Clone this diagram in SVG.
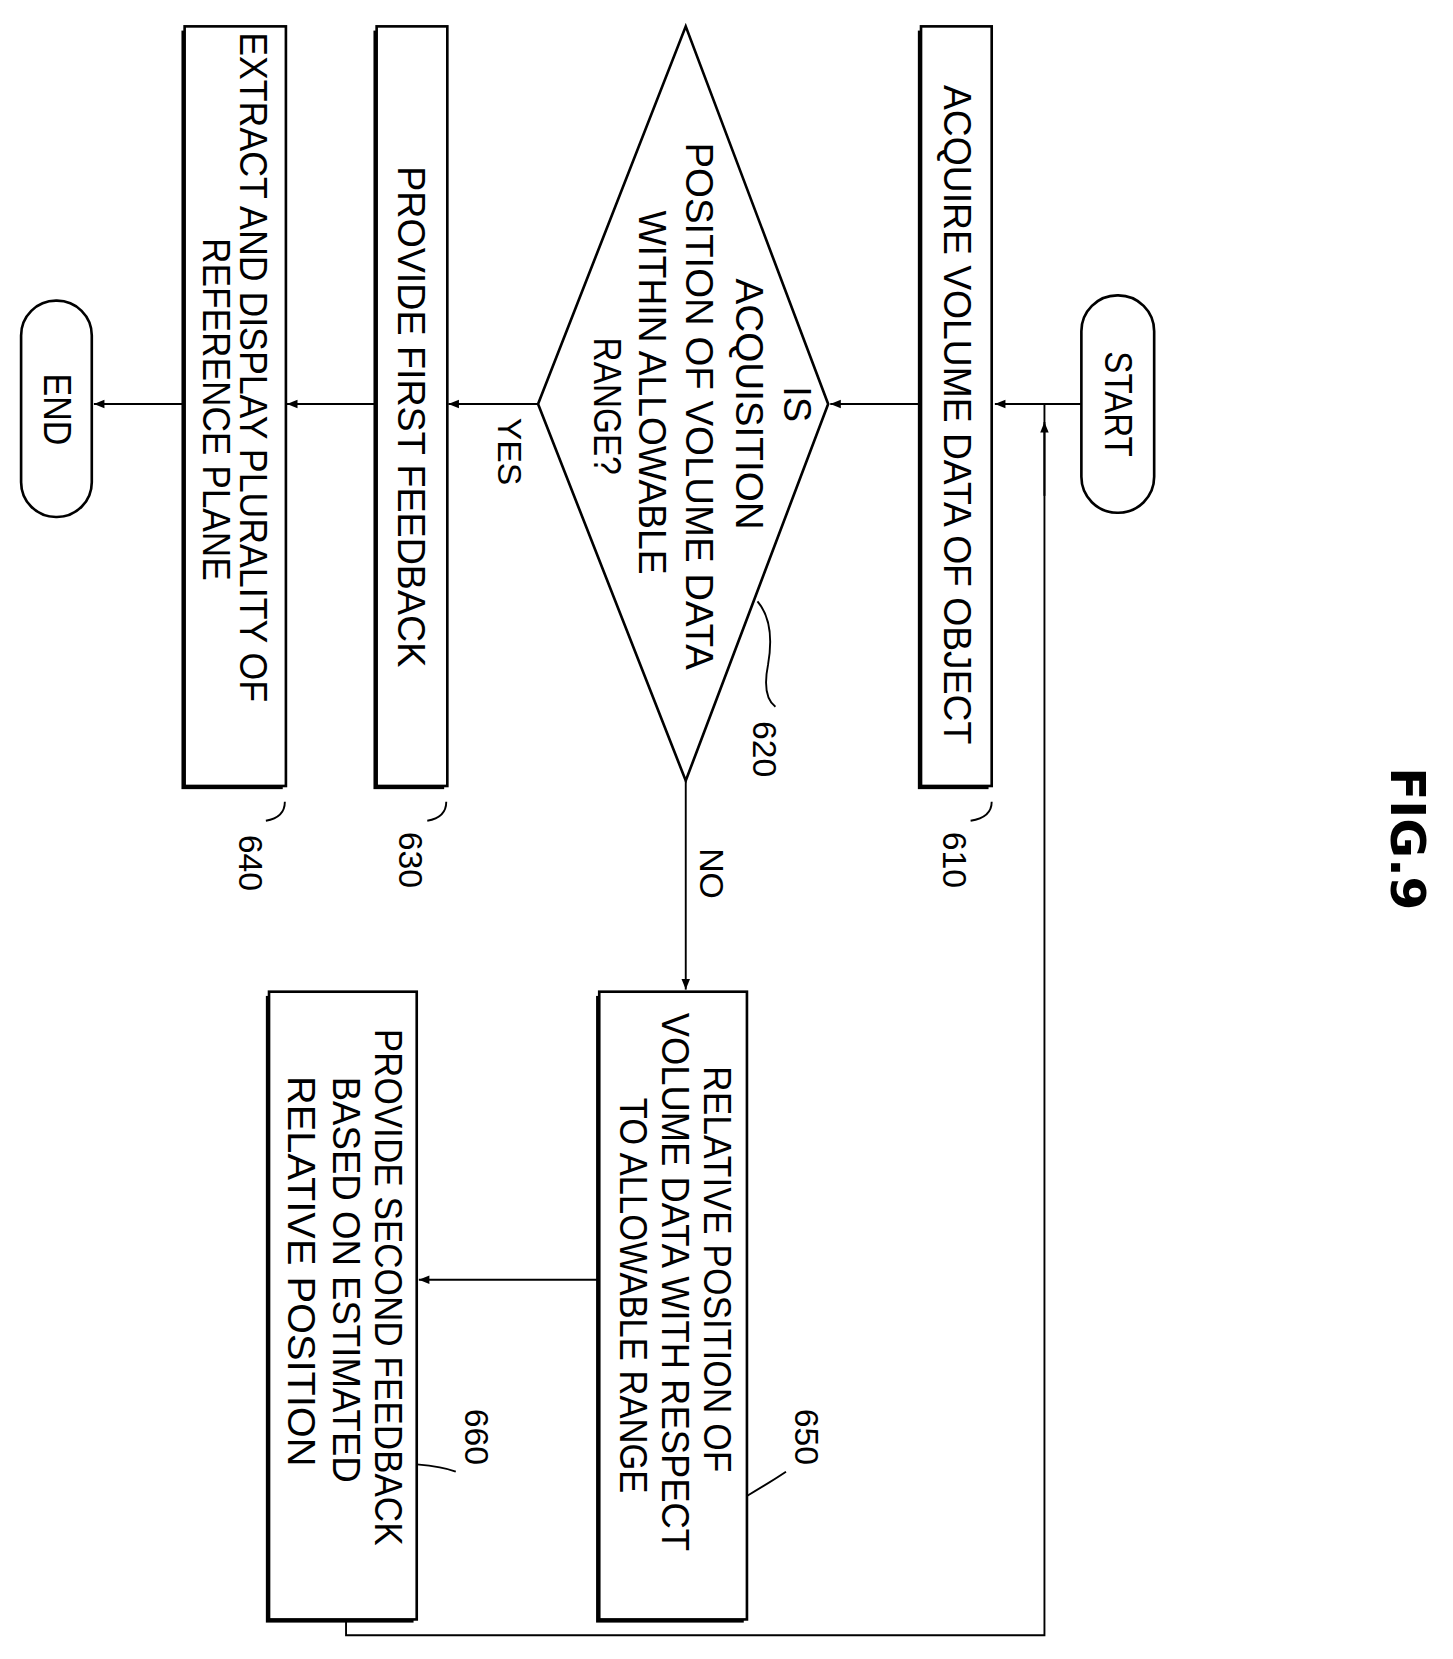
<svg xmlns="http://www.w3.org/2000/svg" width="1453" height="1659" viewBox="0 0 1453 1659">
<style>
.b{fill:#fff;stroke:#000;stroke-width:2.5}
.s{fill:#000}
.t{font-family:"Liberation Sans",sans-serif;font-size:36px;dominant-baseline:central;text-anchor:middle}
.n{font-family:"Liberation Sans",sans-serif;font-size:32px;dominant-baseline:central;text-anchor:middle}
.c line,.c path,.l{fill:none;stroke:#000;stroke-width:1.8}
</style>
<defs><marker id="a" viewBox="0 0 10 10" refX="10" refY="5" markerWidth="26" markerHeight="10" markerUnits="userSpaceOnUse" orient="auto"><path d="M0,1L10,5L0,9z"/></marker></defs>
<rect width="1453" height="1659" fill="#fff"/>
<g transform="scale(1.055)">
<text class="t" transform="translate(1335,795) rotate(90)" style="font-size:46px;font-weight:bold;font-family:'DejaVu Sans',sans-serif">FIG.9</text>
<g class="c">
<line x1="1025" y1="383" x2="943" y2="383" marker-end="url(#a)"/>
<line x1="873" y1="383" x2="787" y2="383" marker-end="url(#a)"/>
<line x1="510" y1="383" x2="425" y2="383" marker-end="url(#a)"/>
<line x1="357" y1="383" x2="272" y2="383" marker-end="url(#a)"/>
<line x1="175" y1="383" x2="89" y2="383" marker-end="url(#a)"/>
<line x1="650" y1="740" x2="650" y2="938" marker-end="url(#a)"/>
<line x1="568" y1="1213" x2="397" y2="1213" marker-end="url(#a)"/>
<path d="M328,1535V1550H990V383" />
<line x1="990" y1="470" x2="990" y2="400" marker-end="url(#a)"/>
<text class="n" transform="translate(483,428) rotate(90)">YES</text>
<text class="n" transform="translate(675,828) rotate(90)">NO</text>
</g>
<g id="start"><rect class="b" x="1025" y="280" width="69" height="206" rx="34"/><text class="t" transform="translate(1060,383) rotate(90)" textLength="100" lengthAdjust="spacingAndGlyphs">START</text></g>
<g id="n610"><rect class="s" x="870" y="29" width="67" height="719"/><rect class="b" x="873" y="25" width="67" height="720"/><text class="t" transform="translate(907,393) rotate(90)" textLength="625" lengthAdjust="spacingAndGlyphs">ACQUIRE VOLUME DATA OF OBJECT</text>
<path class="l" d="M940,760Q940,775 920,778"/><text class="n" transform="translate(905,815) rotate(90)">610</text></g>
<g id="n620"><polygon class="b" points="650,25 785,383 650,740 510,383"/>
<text class="t" transform="translate(755,383) rotate(90)">IS</text>
<text class="t" transform="translate(710,383) rotate(90)" textLength="238" lengthAdjust="spacingAndGlyphs">ACQUISITION</text>
<text class="t" transform="translate(663,385) rotate(90)" textLength="500" lengthAdjust="spacingAndGlyphs">POSITION OF VOLUME DATA</text>
<text class="t" transform="translate(618,372) rotate(90)" textLength="345" lengthAdjust="spacingAndGlyphs">WITHIN ALLOWABLE</text>
<text class="t" transform="translate(575,385) rotate(90)" textLength="130" lengthAdjust="spacingAndGlyphs">RANGE?</text>
<path class="l" d="M718,570Q735,590 728,630Q722,660 735,670"/><text class="n" transform="translate(725,710) rotate(90)">620</text></g>
<g id="n630"><rect class="s" x="354" y="29" width="67" height="719"/><rect class="b" x="357" y="25" width="67" height="720"/><text class="t" transform="translate(390,395) rotate(90)" textLength="475" lengthAdjust="spacingAndGlyphs">PROVIDE FIRST FEEDBACK</text>
<path class="l" d="M423,760Q423,775 405,778"/><text class="n" transform="translate(390,815) rotate(90)">630</text></g>
<g id="n640"><rect class="s" x="172" y="29" width="96" height="719"/><rect class="b" x="175" y="25" width="96" height="720"/>
<text class="t" transform="translate(240,348) rotate(90)" textLength="635" lengthAdjust="spacingAndGlyphs">EXTRACT AND DISPLAY PLURALITY OF</text>
<text class="t" transform="translate(205,388) rotate(90)" textLength="325" lengthAdjust="spacingAndGlyphs">REFERENCE PLANE</text>
<path class="l" d="M270,760Q270,775 252,778"/><text class="n" transform="translate(238,818) rotate(90)">640</text></g>
<g id="end"><rect class="b" x="20" y="285" width="67" height="205" rx="33"/><text class="t" transform="translate(54,388) rotate(90)" textLength="68" lengthAdjust="spacingAndGlyphs">END</text></g>
<g id="n650"><rect class="s" x="565" y="944" width="140" height="594"/><rect class="b" x="568" y="940" width="140" height="595"/>
<text class="t" transform="translate(680,1203) rotate(90)" textLength="385" lengthAdjust="spacingAndGlyphs">RELATIVE POSITION OF</text>
<text class="t" transform="translate(640,1215) rotate(90)" textLength="510" lengthAdjust="spacingAndGlyphs">VOLUME DATA WITH RESPECT</text>
<text class="t" transform="translate(600,1228) rotate(90)" textLength="375" lengthAdjust="spacingAndGlyphs">TO ALLOWABLE RANGE</text>
<path class="l" d="M708,1418Q730,1405 745,1395"/><text class="n" transform="translate(765,1362) rotate(90)">650</text></g>
<g id="n660"><rect class="s" x="252" y="944" width="140" height="594"/><rect class="b" x="255" y="940" width="140" height="595"/>
<text class="t" transform="translate(368,1220) rotate(90)" textLength="490" lengthAdjust="spacingAndGlyphs">PROVIDE SECOND FEEDBACK</text>
<text class="t" transform="translate(328,1213) rotate(90)" textLength="385" lengthAdjust="spacingAndGlyphs">BASED ON ESTIMATED</text>
<text class="t" transform="translate(285,1205) rotate(90)" textLength="370" lengthAdjust="spacingAndGlyphs">RELATIVE POSITION</text>
<path class="l" d="M395,1388Q420,1390 432,1395"/><text class="n" transform="translate(452,1362) rotate(90)">660</text></g>
</g>
</svg>
